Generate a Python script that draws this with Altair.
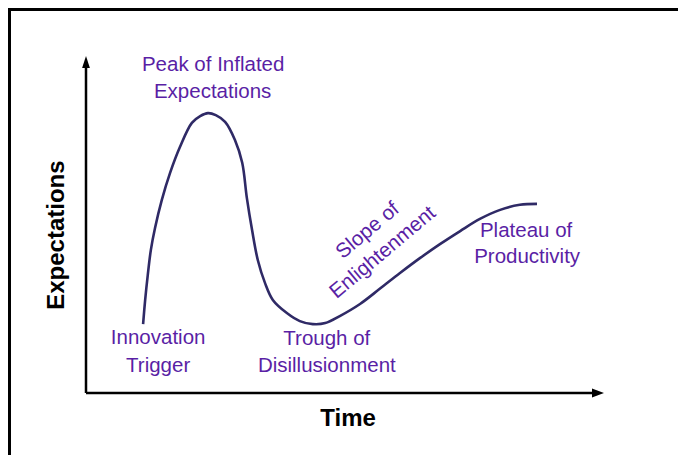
import altair as alt
import pandas as pd

# Hype-cycle curve (time units 0-100 along the x arrow,
# expectation units 0-100 along the y arrow)
curve_time = [11.0, 11.4, 11.9, 12.5, 13.3, 14.6, 16.2, 18.1, 20.4, 22.0, 23.5, 25.0,
              26.8, 28.7, 30.1, 31.0, 32.0, 33.1, 34.5, 36.0, 38.7, 41.2, 43.7, 46.1,
              48.9, 52.8, 56.6, 60.5, 64.4, 68.2, 72.1, 75.9, 79.8, 83.6, 86.9]
curve_expect = [20.5, 27.7, 35.1, 42.6, 49.1, 57.4, 65.5, 73.2, 80.4, 82.4, 83.3, 82.7,
                80.7, 75.3, 68.5, 58.0, 48.5, 39.6, 32.7, 27.7, 23.8, 21.4, 20.5, 20.8,
                22.9, 26.5, 31.0, 35.7, 40.2, 44.3, 48.2, 51.8, 54.5, 56.0, 56.3]

# Stage labels (one entry per text line)
stage_lines = ["Peak of Inflated", "Expectations", "Innovation", "Trigger",
               "Trough of", "Disillusionment", "Slope of", "Enlightenment",
               "Plateau of", "Productivity"]
stage_time = [24.5, 24.4, 13.9, 13.9, 46.4, 46.4, 54.3, 57.2, 84.8, 85.0]
stage_expect = [97.6, 89.6, 16.4, 8.0, 16.1, 8.0, 48.3, 41.8, 48.2, 40.5]
stage_angle = [0, 0, 0, 0, 0, 0, 320, 320, 0, 0]

x_title = "Time"
y_title = "Expectations"

X_DOMAIN = [-15.03, 114.07]
Y_DOMAIN = [-18.45, 114.58]
W, H = 670, 447

FONT = "Liberation Sans, Arial, Helvetica, sans-serif"
PURPLE = "#5a1fa5"
CURVE = "#2f2a66"

xs = alt.Scale(domain=X_DOMAIN, nice=False, zero=False)
ys = alt.Scale(domain=Y_DOMAIN, nice=False, zero=False)

curve_df = pd.DataFrame({"time": curve_time, "expect": curve_expect})
labels_df = pd.DataFrame({"text": stage_lines, "time": stage_time,
                          "expect": stage_expect, "angle": stage_angle})

curve = alt.Chart(curve_df).mark_line(
    interpolate="catmull-rom", color=CURVE, strokeWidth=2.6
).encode(
    x=alt.X("time:Q", scale=xs, axis=None),
    y=alt.Y("expect:Q", scale=ys, axis=None),
)

axes_df = pd.DataFrame({"t0": [0, 0], "e0": [0, 0], "t1": [98, 0], "e1": [0, 98]})
axes = alt.Chart(axes_df).mark_rule(color="black", strokeWidth=2.5, strokeCap="butt").encode(
    x=alt.X("t0:Q", scale=xs, axis=None),
    y=alt.Y("e0:Q", scale=ys, axis=None),
    x2="t1:Q",
    y2="e1:Q",
)

up_df = pd.DataFrame({"t": [0], "e": [98.5]})
arrow_up = alt.Chart(up_df).mark_point(
    shape="M0,-1L0.65,1L-0.65,1Z", filled=True, color="black", opacity=1, size=144
).encode(
    x=alt.X("t:Q", scale=xs, axis=None),
    y=alt.Y("e:Q", scale=ys, axis=None),
)

right_df = pd.DataFrame({"t": [98.65], "e": [0]})
arrow_right = alt.Chart(right_df).mark_point(
    shape="M1,0L-1,-0.75L-1,0.75Z", filled=True, color="black", opacity=1, size=144
).encode(
    x=alt.X("t:Q", scale=xs, axis=None),
    y=alt.Y("e:Q", scale=ys, axis=None),
)

labels = alt.Chart(labels_df).mark_text(
    font=FONT, fontSize=20.5, color=PURPLE, align="center", baseline="middle"
).encode(
    x=alt.X("time:Q", scale=xs, axis=None),
    y=alt.Y("expect:Q", scale=ys, axis=None),
    text="text:N",
    angle=alt.Angle("angle:Q", scale=None),
)

xt_df = pd.DataFrame({"text": [x_title], "time": [50.5], "expect": [-7.7]})
x_title_mark = alt.Chart(xt_df).mark_text(
    font=FONT, fontSize=24, fontWeight="bold", color="black",
    align="center", baseline="middle"
).encode(
    x=alt.X("time:Q", scale=xs, axis=None),
    y=alt.Y("expect:Q", scale=ys, axis=None),
    text="text:N",
)

yt_df = pd.DataFrame({"text": [y_title], "time": [-5.5], "expect": [47.0]})
y_title_mark = alt.Chart(yt_df).mark_text(
    font=FONT, fontSize=24, fontWeight="bold",
    color="black", align="center", baseline="middle", angle=270
).encode(
    x=alt.X("time:Q", scale=xs, axis=None),
    y=alt.Y("expect:Q", scale=ys, axis=None),
    text="text:N",
)

one = pd.DataFrame({"a": [0]})
frame_left = alt.Chart(one).mark_rule(color="black", strokeWidth=3).encode(
    x=alt.value(1.5), y=alt.value(0), y2=alt.value(H)
)
frame_top = alt.Chart(one).mark_rule(color="black", strokeWidth=3).encode(
    y=alt.value(1.5), x=alt.value(0), x2=alt.value(W)
)

chart = alt.layer(
    frame_left, frame_top, axes, arrow_up, arrow_right, curve, labels,
    x_title_mark, y_title_mark
).properties(
    width=W, height=H, padding=0,
    autosize=alt.AutoSizeParams(type="none"),
    background="white",
).configure_view(stroke=None)

chart.save("out.html", embed_options={"renderer": "svg", "actions": False})
